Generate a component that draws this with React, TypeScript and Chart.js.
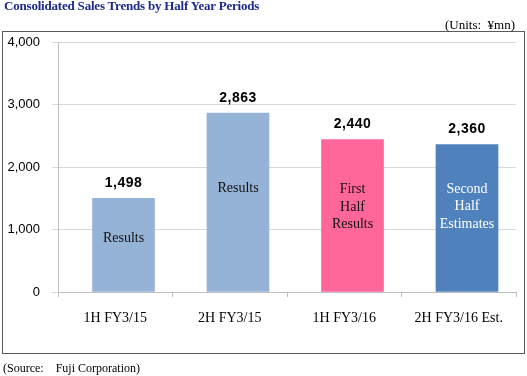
import React, { useEffect, useRef } from "react";
import { Chart, registerables } from "chart.js";

Chart.register(...registerables);

const categories = ["1H FY3/15", "2H FY3/15", "1H FY3/16", "2H FY3/16 Est."];
const salesValues = [1498, 2863, 2440, 2360];
const barColors = ["#95B3D7", "#95B3D7", "#FF6699", "#4F81BD"];
const innerLabels = [["Results"], ["Results"], ["First", "Half", "Results"], ["Second", "Half", "Estimates"]];
const innerLabelColors = ["#111111", "#111111", "#111111", "#FFFFFF"];
const innerLabelLevels = [860, 1660, 1360, 1370];
const yTicks = [0, 1000, 2000, 3000, 4000];

const labelsPlugin = {
  id: "barLabels",
  afterDatasetsDraw(chart: any) {
    const ctx = chart.ctx;
    const meta = chart.getDatasetMeta(0);
    const yScale = chart.scales.y;
    ctx.save();
    meta.data.forEach((bar: any, i: number) => {
      ctx.fillStyle = "#000";
      ctx.font = "bold 14px 'Liberation Sans', Arial, sans-serif";
      ctx.textAlign = "center";
      ctx.textBaseline = "middle";
      (ctx as any).letterSpacing = "0.5px";
      ctx.fillText(salesValues[i].toLocaleString("en-US"), bar.x, bar.y - 15);
      (ctx as any).letterSpacing = "0px";
      ctx.font = "14px 'Liberation Serif', 'Times New Roman', serif";
      ctx.fillStyle = innerLabelColors[i];
      const lines = innerLabels[i];
      const cy = yScale.getPixelForValue(innerLabelLevels[i]);
      const lh = 17.5;
      lines.forEach((ln, k) => {
        ctx.fillText(ln, bar.x, cy + (k - (lines.length - 1) / 2) * lh);
      });
    });
    ctx.restore();
  },
};

function ChartCanvas() {
  const ref = useRef<HTMLCanvasElement | null>(null);
  useEffect(() => {
    if (!ref.current) return;
    const chart = new Chart(ref.current, {
      type: "bar",
      data: {
        labels: categories,
        datasets: [
          {
            data: salesValues.map((v, i) => ({ x: i, y: v })) as any,
            backgroundColor: barColors,
            borderWidth: 0,
            barThickness: 62,
            xAxisID: "xb",
            yAxisID: "y",
          },
        ],
      },
      options: {
        animation: false,
        responsive: false,
        maintainAspectRatio: false,
        events: [],
        layout: { padding: { top: 42, right: 11, bottom: 0, left: 0 } },
        plugins: { legend: { display: false }, tooltip: { enabled: false } },
        scales: {
          xb: {
            type: "linear",
            display: false,
            offset: false,
            min: -0.572,
            max: 3.428,
          },
          x: {
            type: "category",
            position: "bottom",
            offset: true,
            afterFit: (s: any) => {
              s.height = 84;
            },
            grid: {
              display: true,
              drawOnChartArea: false,
              drawTicks: true,
              tickLength: 5,
              offset: true,
              color: "#BFBFBF",
            },
            border: { display: true, color: "#BFBFBF" },
            ticks: {
              padding: 13,
              color: "#000",
              font: { family: "'Liberation Serif', 'Times New Roman', serif", size: 14 },
              maxRotation: 0,
            },
          },
          y: {
            type: "linear",
            min: 0,
            max: 4000,
            afterFit: (s: any) => {
              s.width = 58;
            },
            afterBuildTicks: (s: any) => {
              s.ticks = yTicks.map((v) => ({ value: v }));
            },
            grid: { color: "#D9D9D9", tickLength: 6, drawTicks: true },
            border: { display: true, color: "#BFBFBF" },
            ticks: {
              padding: 12,
              color: "#000",
              font: { family: "'Liberation Sans', Arial, sans-serif", size: 13 },
              callback: (v: any) => Number(v).toLocaleString("en-US"),
            },
          },
        },
      },
      plugins: [labelsPlugin],
    });
    return () => chart.destroy();
  }, []);
  return (
    <canvas
      ref={ref}
      width={527}
      height={376}
      style={{ position: "absolute", left: 0, top: 0, width: 527, height: 376 }}
    />
  );
}

export default function App() {
  return (
    <div
      style={{
        position: "absolute",
        left: 0,
        top: 0,
        width: 527,
        height: 376,
        background: "#fff",
        overflow: "hidden",
      }}
    >
      <div
        style={{
          position: "absolute",
          left: 2,
          top: 31,
          width: 521,
          height: 321,
          border: "1px solid #5a5a5a",
        }}
      />
      <ChartCanvas />
      <div
        style={{
          position: "absolute",
          left: 4,
          top: -1,
          fontFamily: "'Liberation Serif', 'Times New Roman', serif",
          fontWeight: "bold",
          fontSize: 13,
          lineHeight: "14px",
          color: "#1B2A8C",
          letterSpacing: "-0.2px",
          whiteSpace: "nowrap",
        }}
      >
        Consolidated Sales Trends by Half Year Periods
      </div>
      <div
        style={{
          position: "absolute",
          right: 12,
          top: 17,
          fontFamily: "'Liberation Serif', 'Times New Roman', serif",
          fontSize: 13,
          lineHeight: "15px",
          color: "#000",
          whiteSpace: "pre",
        }}
      >
        {"(Units:  ¥mn)"}
      </div>
      <div
        style={{
          position: "absolute",
          left: 3,
          top: 361,
          fontFamily: "'Liberation Serif', 'Times New Roman', serif",
          fontSize: 12,
          lineHeight: "14px",
          color: "#000",
          whiteSpace: "pre",
        }}
      >
        {"(Source:    Fuji Corporation)"}
      </div>
    </div>
  );
}
